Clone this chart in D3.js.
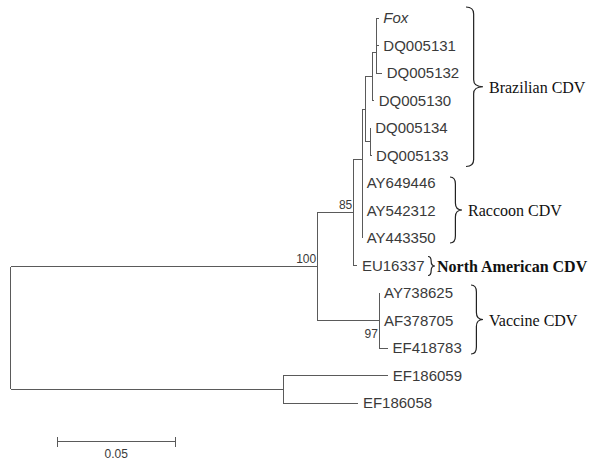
<!DOCTYPE html>
<html>
<head>
<meta charset="utf-8">
<script src="https://cdn.jsdelivr.net/npm/d3@7/dist/d3.min.js"></script>
<style>
  html, body { margin: 0; padding: 0; background: #fff; }
  svg { display: block; }
</style>
</head>
<body>
<svg id="chart" width="592" height="462"></svg>
<script>
// ---------- DATA ----------
const nodeIds = ["root","ingroup","out","N85","vac","X","EU16337","B","R","U","L","V","DQ005130","W","DQ005132","Fox","DQ005131","DQ005134","DQ005133","AY649446","AY542312","AY443350","AY738625","AF378705","EF418783","EF186059","EF186058"];
const parentIds = ["","root","root","ingroup","ingroup","N85","N85","X","X","B","B","U","U","V","V","W","W","L","L","R","R","R","vac","vac","vac","out","out"];
const branchLengths = [0,0.1303,0.1158,0.0153,0.0262,0.0037,0.0017,0.0013,0,0.0030,0.0021,0.0017,0.0008,0,0.0025,0.0011,0.0011,0.0002,0.0006,0,0,0,0.0002,0.0002,0.0038,0.0446,0.0319];
const bootstrapNodes = ["ingroup","N85","vac"];
const bootstrapValues = [100, 85, 97];
const italicLeaves = ["Fox"];

const groupNames = ["Brazilian CDV","Raccoon CDV","North American CDV","Vaccine CDV"];
const groupFirstLeaf = ["Fox","AY649446","EU16337","AY738625"];
const groupLastLeaf = ["DQ005133","AY443350","EU16337","EF418783"];

const scaleBarValue = 0.05;
const scaleBarLabel = "0.05";

// ---------- LAYOUT (positions / styles) ----------
const rootX = 10.7, unitPx = 117.7 / 0.05;
const leafTop = 18, leafBottom = 403;
const lineColor = "#5a5a5a", textColor = "#3a3a3a";
const braceLayout = {
  "Brazilian CDV":      {x0: 466, w: 17, padTop: 11, padBot: 11, bold: false},
  "Raccoon CDV":        {x0: 450, w: 12, padTop: 6,  padBot: 5,  bold: false},
  "North American CDV": {x0: 428, w: 7,  padTop: 9,  padBot: 10, bold: true},
  "Vaccine CDV":        {x0: 471, w: 12, padTop: 8,  padBot: 6,  bold: false}
};
const bootstrapBelow = new Set(["vac"]);

// ---------- BUILD ----------
const svg = d3.select("#chart");
svg.append("rect").attr("width", 592).attr("height", 462).attr("fill", "#fff");

const table = nodeIds.map((id, i) => ({id, parent: parentIds[i] || null, len: branchLengths[i]}));
const root = d3.stratify().id(d => d.id).parentId(d => d.parent)(table);
root.each(n => { n.dist = n.parent ? n.parent.dist + n.data.len : 0; });

const x = d3.scaleLinear().domain([0, 0.05]).range([rootX, rootX + 0.05 * unitPx]);
const leaves = root.leaves();
const y = d3.scalePoint().domain(leaves.map(d => d.id)).range([leafTop, leafBottom]);
root.eachAfter(n => {
  if (!n.children) n.y = y(n.id);
  else n.y = (n.children[0].y + n.children[n.children.length - 1].y) / 2;
  n.x = x(n.dist);
});

const g = svg.append("g");
// horizontal branches
g.selectAll("line.h").data(root.descendants().filter(n => n.parent && n.x - n.parent.x > 0.01))
  .join("line").attr("class", "h")
  .attr("x1", n => n.parent.x).attr("x2", n => n.x)
  .attr("y1", n => n.y).attr("y2", n => n.y)
  .attr("stroke", lineColor).attr("stroke-width", 1).attr("shape-rendering", "crispEdges");
// vertical connectors
g.selectAll("line.v").data(root.descendants().filter(n => n.children))
  .join("line").attr("class", "v")
  .attr("x1", n => n.x).attr("x2", n => n.x)
  .attr("y1", n => n.children[0].y).attr("y2", n => n.children[n.children.length - 1].y)
  .attr("stroke", lineColor).attr("stroke-width", 1).attr("shape-rendering", "crispEdges");

// leaf labels
g.selectAll("text.leaf").data(leaves).join("text").attr("class", "leaf")
  .attr("x", n => n.x + 4.5).attr("y", n => n.y)
  .attr("dy", "0.36em")
  .attr("font-family", "Liberation Sans, Arial, sans-serif")
  .attr("font-size", 15)
  .attr("font-style", n => italicLeaves.includes(n.id) ? "italic" : "normal")
  .attr("fill", textColor)
  .text(n => n.id);

// bootstrap labels
const nodeById = new Map(root.descendants().map(n => [n.id, n]));
g.selectAll("text.bs").data(bootstrapNodes.map((id, i) => ({node: nodeById.get(id), v: bootstrapValues[i]})))
  .join("text").attr("class", "bs")
  .attr("x", d => d.node.x - 1.2)
  .attr("y", d => bootstrapBelow.has(d.node.id) ? d.node.y + 17 : d.node.y - 3.5)
  .attr("text-anchor", "end")
  .attr("font-family", "Liberation Sans, Arial, sans-serif")
  .attr("font-size", 12)
  .attr("fill", textColor)
  .text(d => d.v);

// braces and group labels
function bracePath(x0, y1, y2, w) {
  const xm = x0 + w * 0.45, ym = (y1 + y2) / 2;
  const r = Math.min(7, (y2 - y1) / 4);
  return `M${x0},${y1} Q${xm},${y1} ${xm},${y1 + r} L${xm},${ym - r} Q${xm},${ym} ${x0 + w},${ym}` +
         ` Q${xm},${ym} ${xm},${ym + r} L${xm},${y2 - r} Q${xm},${y2} ${x0},${y2}`;
}
const groups = groupNames.map((name, i) => ({
  name, y1: y(groupFirstLeaf[i]), y2: y(groupLastLeaf[i]), L: braceLayout[name]
}));
g.selectAll("path.brace").data(groups).join("path").attr("class", "brace")
  .attr("d", d => bracePath(d.L.x0, d.y1 - d.L.padTop, d.y2 + d.L.padBot, d.L.w))
  .attr("fill", "none").attr("stroke", "#222").attr("stroke-width", 1.2);
g.selectAll("text.group").data(groups).join("text").attr("class", "group")
  .attr("x", d => d.L.x0 + d.L.w + (d.L.bold ? 2 : 6))
  .attr("y", d => (d.y1 - d.L.padTop + d.y2 + d.L.padBot) / 2 + 1)
  .attr("dy", "0.33em")
  .attr("font-family", "Liberation Serif, 'Times New Roman', serif")
  .attr("font-size", 16)
  .attr("font-weight", d => d.L.bold ? "bold" : "normal")
  .attr("fill", "#111")
  .text(d => d.name);

// scale bar
const sbX = 57.3, sbY = 441.7;
const sbLen = x(scaleBarValue) - x(0);
const sb = svg.append("g").attr("stroke", lineColor).attr("stroke-width", 1).attr("shape-rendering", "crispEdges");
sb.append("line").attr("x1", sbX).attr("x2", sbX + sbLen).attr("y1", sbY).attr("y2", sbY);
sb.append("line").attr("x1", sbX).attr("x2", sbX).attr("y1", sbY - 5).attr("y2", sbY + 5);
sb.append("line").attr("x1", sbX + sbLen).attr("x2", sbX + sbLen).attr("y1", sbY - 5).attr("y2", sbY + 5);
svg.append("text").attr("x", sbX + sbLen / 2).attr("y", sbY + 16)
  .attr("text-anchor", "middle")
  .attr("font-family", "Liberation Sans, Arial, sans-serif")
  .attr("font-size", 12).attr("fill", textColor)
  .text(scaleBarLabel);
</script>
</body>
</html>
